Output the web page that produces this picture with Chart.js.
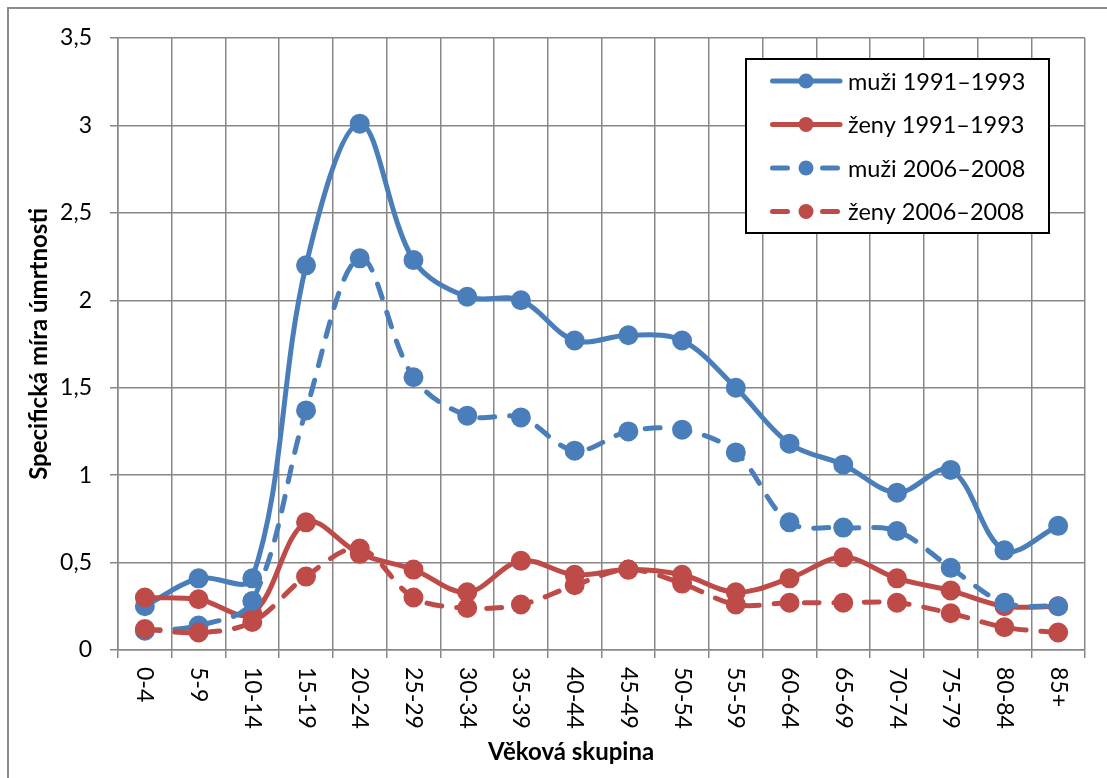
<!DOCTYPE html>
<html lang="cs">
<head>
<meta charset="utf-8">
<title>Specifická míra úmrtnosti</title>
<script src="https://cdn.jsdelivr.net/npm/chart.js@4.4.1/dist/chart.umd.min.js"></script>
<style>
  html, body { margin: 0; padding: 0; background: #fff; overflow: hidden; }
  #wrap { position: relative; width: 1107px; height: 778px; overflow: hidden; }
  #frame { position: absolute; left: 7px; top: 7px; width: 1200px; height: 900px; border: 2px solid #8c8c8c; }
  #chart { position: absolute; left: 0; top: 0; }
</style>
</head>
<body>
<div id="wrap">
  <div id="frame"></div>
  <canvas id="chart" width="1107" height="778"></canvas>
</div>
<script>
// Age groups on the x axis
const ageGroups = ['0-4', '5-9', '10-14', '15-19', '20-24', '25-29', '30-34', '35-39', '40-44',
                   '45-49', '50-54', '55-59', '60-64', '65-69', '70-74', '75-79', '80-84', '85+'];

// Values
const muzi1991 = [0.25, 0.41, 0.41, 2.20, 3.01, 2.23, 2.02, 2.00, 1.77, 1.80, 1.77, 1.50, 1.18, 1.06, 0.90, 1.03, 0.57, 0.71];
const zeny1991 = [0.30, 0.29, 0.21, 0.73, 0.55, 0.46, 0.33, 0.51, 0.43, 0.46, 0.43, 0.33, 0.41, 0.53, 0.41, 0.34, 0.25, 0.25];
const muzi2006 = [0.11, 0.14, 0.28, 1.37, 2.24, 1.56, 1.34, 1.33, 1.14, 1.25, 1.26, 1.13, 0.73, 0.70, 0.68, 0.47, 0.27, 0.25];
const zeny2006 = [0.12, 0.10, 0.16, 0.42, 0.58, 0.30, 0.24, 0.26, 0.37, 0.46, 0.38, 0.26, 0.27, 0.27, 0.27, 0.21, 0.13, 0.10];

const seriesLabels = ['muži 1991–1993', 'ženy 1991–1993', 'muži 2006–2008', 'ženy 2006–2008'];
const yTicks = [0, 0.5, 1, 1.5, 2, 2.5, 3, 3.5];

const BLUE = '#4a7ebb';
const RED = '#be4b48';
const GRID = '#878787';
const FONT = 'Lato';

function makeDataset(label, data, color, dashed, order) {
    return {
        label: label,
        data: data,
        borderColor: color,
        backgroundColor: color,
        pointBackgroundColor: color,
        pointBorderColor: color,
        borderWidth: 5,
        borderDash: dashed ? [15, 15] : [],
        borderCapStyle: 'round',
        pointRadius: 7.5,
        pointHoverRadius: 7.5,
        tension: 0.35,
        fill: false,
        order: order
    };
}

// Rotated x labels, x title and the boxed legend
const customDraw = {
    id: 'customDraw',
    afterDraw(chart) {
        const ctx = chart.ctx;
        const xScale = chart.scales.x;
        ctx.save();
        ctx.fillStyle = '#000';
        ctx.font = '23px ' + FONT;
        ctx.textAlign = 'left';
        ctx.textBaseline = 'middle';
        ageGroups.forEach((label, i) => {
            const x = xScale.getPixelForTick(i);
            ctx.save();
            ctx.translate(x, xScale.top + 17);
            ctx.rotate(Math.PI / 2);
            ctx.fillText(label, 0, 0);
            ctx.restore();
        });

        ctx.font = 'bold 24px ' + FONT;
        ctx.textAlign = 'center';
        ctx.fillText('Věková skupina', 571, 752);

        // legend
        const lx = 746, ly = 59, lw = 303, lh = 174;
        ctx.fillStyle = '#fff';
        ctx.fillRect(lx, ly, lw, lh);
        ctx.strokeStyle = '#000';
        ctx.lineWidth = 2;
        ctx.strokeRect(lx, ly, lw, lh);

        ctx.font = '23.5px ' + FONT;
        ctx.textAlign = 'left';
        chart.data.datasets.forEach((ds, i) => {
            const y = ly + 22 + i * 43.5;
            ctx.strokeStyle = ds.borderColor;
            ctx.lineWidth = ds.borderWidth;
            ctx.lineCap = 'round';
            ctx.setLineDash(ds.borderDash.length ? [15, 35] : []);
            ctx.beginPath();
            ctx.moveTo(lx + 26.5, y);
            ctx.lineTo(lx + 94, y);
            ctx.stroke();
            ctx.setLineDash([]);
            ctx.fillStyle = ds.pointBackgroundColor;
            ctx.beginPath();
            ctx.arc(lx + 60, y, ds.pointRadius, 0, Math.PI * 2);
            ctx.fill();
            ctx.fillStyle = '#000';
            ctx.fillText(ds.label, lx + 102, y + 1);
        });
        ctx.restore();
    }
};

new Chart(document.getElementById('chart'), {
    type: 'line',
    data: {
        labels: ageGroups,
        datasets: [
            makeDataset(seriesLabels[0], muzi1991, BLUE, false, 3),
            makeDataset(seriesLabels[1], zeny1991, RED, false, 2),
            makeDataset(seriesLabels[2], muzi2006, BLUE, true, 1),
            makeDataset(seriesLabels[3], zeny2006, RED, true, 0)
        ]
    },
    options: {
        responsive: false,
        animation: false,
        devicePixelRatio: 1,
        layout: { padding: { left: 0, top: 38, right: 22, bottom: 0 } },
        plugins: {
            legend: { display: false },
            tooltip: { enabled: false },
            title: { display: false }
        },
        scales: {
            x: {
                offset: true,
                grid: { offset: true, color: GRID, lineWidth: 1.5, tickLength: 8, drawTicks: true },
                border: { color: GRID, width: 1.5 },
                ticks: { display: false },
                afterFit: s => { s.height = 128; }
            },
            y: {
                min: 0,
                max: 3.5,
                afterBuildTicks: s => { s.ticks = yTicks.map(v => ({ value: v })); },
                grid: { color: GRID, lineWidth: 1.5, tickLength: 8 },
                border: { color: GRID, width: 1.5 },
                ticks: {
                    color: '#000',
                    padding: 18,
                    font: { family: FONT, size: 23 },
                    callback: v => String(v).replace('.', ',')
                },
                title: {
                    display: true,
                    text: 'Specifická míra úmrtnosti',
                    color: '#000',
                    font: { family: FONT, size: 24, weight: 'bold' },
                    padding: { top: 25, bottom: 0 }
                },
                afterFit: s => { s.width = 118; }
            }
        }
    },
    plugins: [customDraw]
});
</script>
</body>
</html>
